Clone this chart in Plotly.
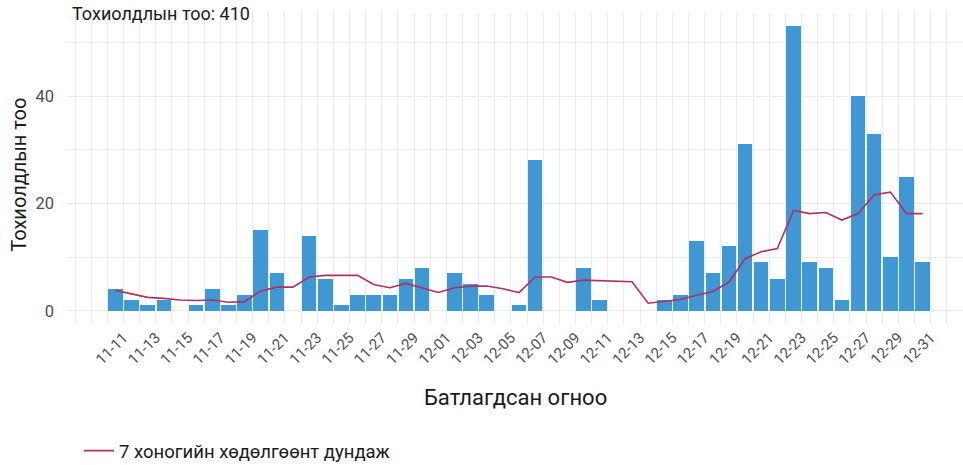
import pandas as pd
import plotly.graph_objects as go

# ---- data ----
dates = pd.date_range("2020-11-11", "2020-12-31", freq="D")
cases = [4, 2, 1, 2, 0, 1, 4, 1, 3, 15, 7, 0, 14, 6, 1, 3, 3, 3, 6, 8,
         0, 7, 5, 3, 0, 1, 28, 0, 0, 8, 2, 0, 0, 0, 2, 3, 13, 7, 12, 31,
         9, 6, 53, 9, 8, 2, 40, 33, 10, 25, 9]
rolling7 = [3.8, 3.1, 2.5, 2.3, 2.0, 1.9, 2.0, 1.6, 1.7, 3.7, 4.4, 4.4, 6.3, 6.6,
            6.6, 6.6, 4.9, 4.3, 5.1, 4.3, 3.4, 4.3, 4.6, 4.6, 4.1, 3.4, 6.3, 6.3,
            5.3, 5.7, 5.6, 5.6, 5.4, 1.4, 1.7, 2.1, 2.9, 3.6, 5.3, 9.7, 11.0, 11.6,
            18.7, 18.1, 18.3, 16.9, 18.1, 21.6, 22.1, 18.1, 18.1]
tick_dates = dates[::2]
tick_labels = [d.strftime("%m-%d") for d in tick_dates]
y_ticks = [0, 20, 40]
y_minor = [10, 30, 50]
title_text = "Тохиолдлын тоо: 410"
x_title = "Батлагдсан огноо"
y_title = "Тохиолдлын тоо"
legend_name = "7 хоногийн хөдөлгөөнт дундаж"

DAY = 86400000
FONT = "Roboto, Liberation Sans, sans-serif"
line_x = dates - pd.Timedelta(hours=12)

fig = go.Figure()
fig.add_trace(go.Bar(
    x=dates, y=cases, width=0.9 * DAY, offset=-0.95 * DAY,
    marker=dict(color="#3f97d3", line=dict(width=0)),
    showlegend=False, hoverinfo="x+y"))
fig.add_trace(go.Scatter(
    x=line_x, y=rolling7, mode="lines", name=legend_name,
    line=dict(color="#b03060", width=1.6)))

grid = "#ebebeb"
fig.update_layout(
    width=963, height=465,
    margin=dict(l=67, r=0, t=12, b=140, autoexpand=False),
    paper_bgcolor="white", plot_bgcolor="white",
    font=dict(family=FONT, color="#4d4d4d"),
    bargap=0,
    showlegend=True,
    legend=dict(orientation="h", x=0.0134, xanchor="left", y=-0.403, yanchor="middle",
                font=dict(size=18.5, color="#1a1a1a", family=FONT), itemwidth=30,
                bgcolor="rgba(0,0,0,0)", tracegroupgap=0),
    xaxis=dict(type="date", range=["2020-11-07 12:00", "2021-01-02 00:00"],
               tickmode="array", tickvals=tick_dates, ticktext=tick_labels,
               tickangle=-45, tickfont=dict(size=15, color="#4d4d4d"),
               showgrid=True, gridcolor=grid, gridwidth=1, zeroline=False,
               showline=False, ticks="", ticklen=0, automargin=False,
               minor=dict(dtick=DAY, tick0="2020-11-11", showgrid=True,
                          gridcolor=grid, gridwidth=1, ticks="")),
    yaxis=dict(range=[-2.65, 55.65], tickmode="array", tickvals=y_ticks,
               tickfont=dict(size=16.5, color="#4d4d4d"), ticklabelstandoff=12,
               showgrid=True, gridcolor=grid, gridwidth=1, zeroline=False,
               showline=False, ticks="", ticklen=0, automargin=False,
               minor=dict(tickmode="array", tickvals=y_minor, showgrid=True,
                          gridcolor=grid, gridwidth=1, ticks="")),
    annotations=[
        dict(text=x_title, xref="paper", yref="paper", x=0.5, y=-0.233,
             xanchor="center", yanchor="middle", showarrow=False,
             font=dict(size=22, color="#1a1a1a", family=FONT)),
        dict(text=y_title, xref="paper", yref="paper", x=-0.0536, y=0.48,
             xanchor="center", yanchor="middle", textangle=-90, showarrow=False,
             font=dict(size=20, color="#1a1a1a", family=FONT)),
        dict(text=title_text, xref="paper", yref="paper", x=0.003, y=1.035,
             xanchor="left", yanchor="top", showarrow=False,
             font=dict(size=18, color="#1a1a1a", family=FONT)),
    ],
)
fig.write_html("out.html", config={"displayModeBar": False},
               post_script="document.body.style.margin='0px';")
